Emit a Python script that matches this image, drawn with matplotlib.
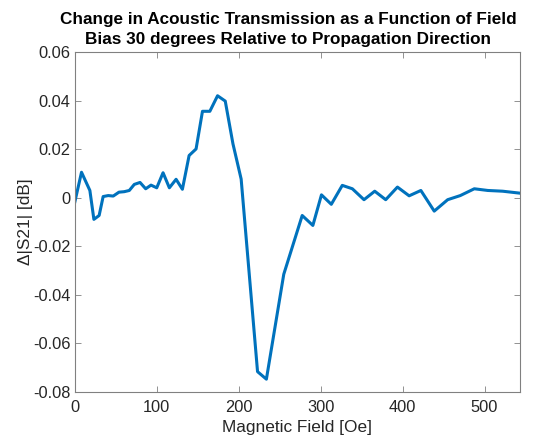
import numpy as np
import matplotlib
matplotlib.use('Agg')
import matplotlib.pyplot as plt

# Field sweep (Oe) and change in transmission (dB)
field = [0, 8.2, 18.4, 23.3, 29.7, 34.6, 40.8, 46.9, 53.9, 60.3, 66.5, 72.6,
         79.6, 86.5, 93, 100, 107.7, 115.4, 123.6, 131.3, 139.5, 148, 155.8,
         164.8, 174.2, 183.6, 193, 203, 223, 233.8, 255, 277.5, 290.5, 301,
         313, 326.4, 338.7, 352.9, 366, 379.4, 393.7, 408, 422.3, 438.6, 455,
         470.4, 487.5, 504, 522, 543]
delta_s21 = [-0.0018, 0.0105, 0.0030, -0.0089, -0.0073, 0.0005, 0.0009, 0.0007,
             0.0023, 0.0025, 0.0030, 0.0055, 0.0063, 0.0037, 0.0052, 0.0041,
             0.0103, 0.0041, 0.0076, 0.0035, 0.0174, 0.0201, 0.0356, 0.0356,
             0.0420, 0.0398, 0.0222, 0.0077, -0.0716, -0.0747, -0.0315, -0.0073,
             -0.0114, 0.0012, -0.0027, 0.0051, 0.0037, -0.0008, 0.0027, -0.0008,
             0.0044, 0.0008, 0.0030, -0.0055, -0.0008, 0.0009, 0.0037, 0.0030,
             0.0027, 0.0019]

y_ticks = [-0.08, -0.06, -0.04, -0.02, 0, 0.02, 0.04, 0.06]
y_tick_labels = ['-0.08', '-0.06', '-0.04', '-0.02', '0', '0.02', '0.04', '0.06']
x_ticks = [0, 100, 200, 300, 400, 500]

plt.rcParams['font.family'] = ['Liberation Sans', 'DejaVu Sans']

fig = plt.figure(figsize=(5.42, 4.41), dpi=100)
ax = fig.add_axes([0.138, 0.111, 0.821, 0.771])

ax.plot(field, delta_s21, color='#0072BD', linewidth=2.2)

ax.set_xlim(0, field[-1])
ax.set_ylim(-0.08, 0.06)
ax.set_xticks(x_ticks)
ax.set_yticks(y_ticks)
ax.set_yticklabels(y_tick_labels)

grey = '#262626'
for spine in ax.spines.values():
    spine.set_color('#808080')
    spine.set_linewidth(0.8)
ax.tick_params(direction='in', length=4, width=0.6, colors='#808080',
               labelcolor=grey, labelsize=11.8, top=True, right=True, pad=3)
ax.tick_params(axis='x', pad=6)

ax.set_xlabel('Magnetic Field [Oe]', fontsize=12.4, color=grey, labelpad=3)
ax.set_ylabel('\u0394|S21| [dB]', fontsize=12.4, color=grey, labelpad=0)
ax.set_title('Change in Acoustic Transmission as a Function of Field\n'
             'Bias 30 degrees Relative to Propagation Direction',
             fontsize=12.3, fontweight='bold', color='black', pad=6,
             linespacing=1.42, x=0.48)

fig.savefig('out.png', dpi=100)
